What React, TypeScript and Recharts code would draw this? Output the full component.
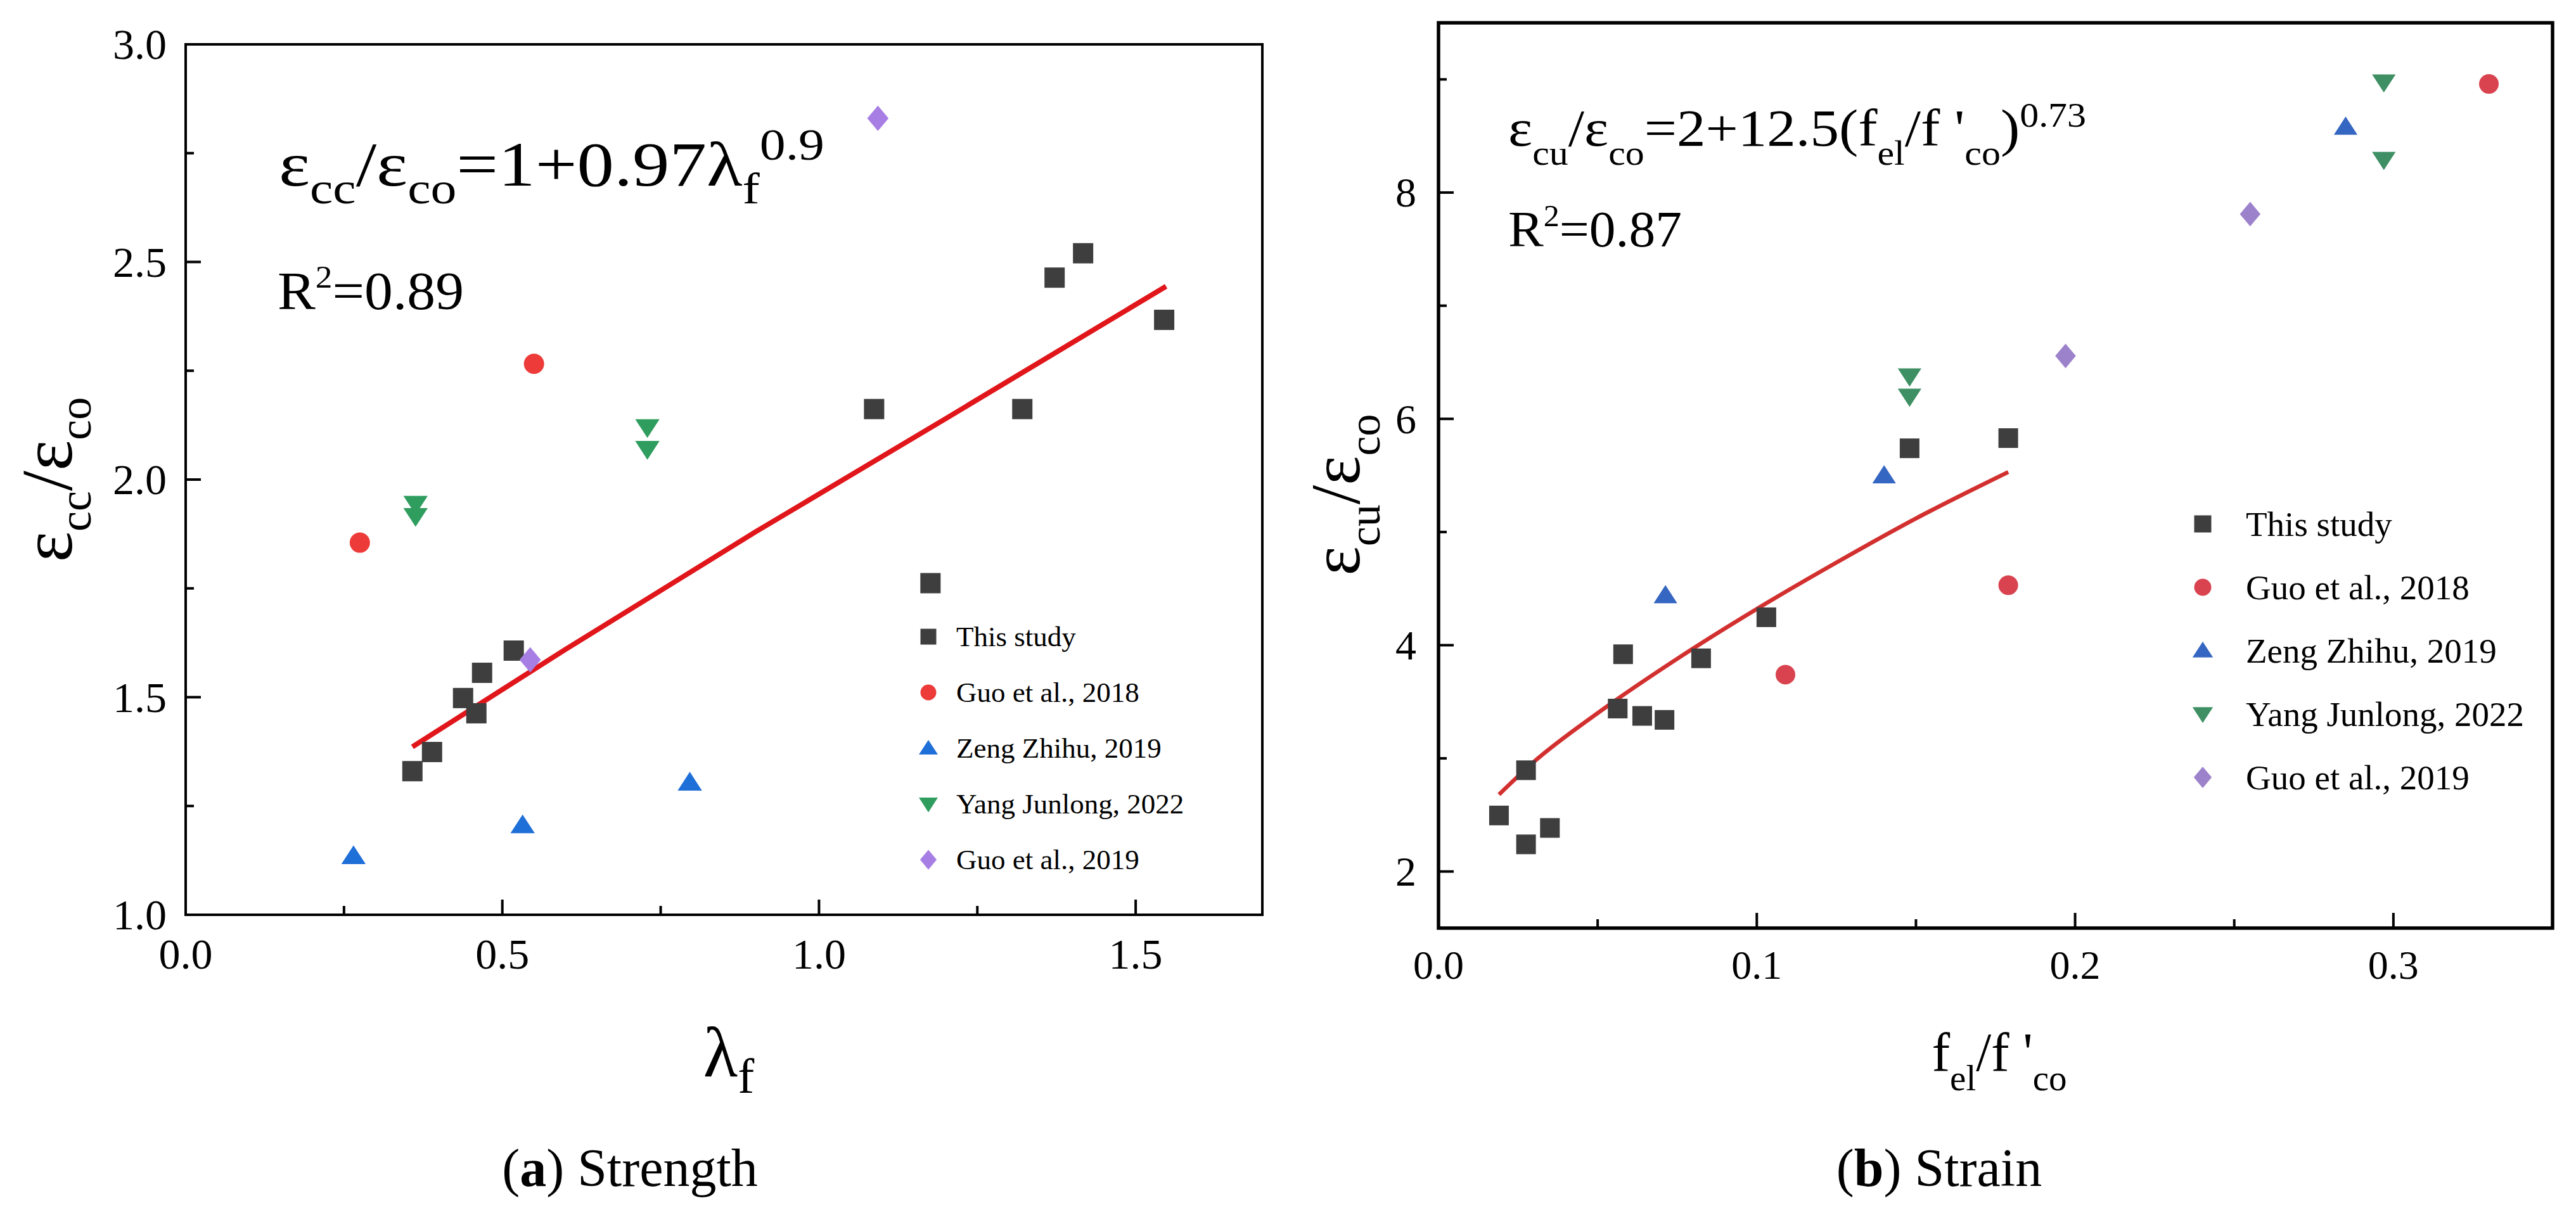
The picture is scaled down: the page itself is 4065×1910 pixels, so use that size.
import React from "react";
import { ComposedChart, Scatter, Line, XAxis, YAxis, ReferenceArea } from "recharts";

const FONT = "'Liberation Serif', 'Times New Roman', 'DejaVu Serif', serif";

// ---- (a) Strength ----
const strengthThisStudy = [
  { x: 0.358, y: 1.33 }, { x: 0.389, y: 1.374 }, { x: 0.438, y: 1.498 },
  { x: 0.459, y: 1.463 }, { x: 0.468, y: 1.556 }, { x: 0.518, y: 1.607 },
  { x: 1.087, y: 2.162 }, { x: 1.176, y: 1.762 }, { x: 1.321, y: 2.162 },
  { x: 1.372, y: 2.464 }, { x: 1.417, y: 2.52 }, { x: 1.545, y: 2.367 },
];
const strengthGuo2018 = [{ x: 0.275, y: 1.855 }, { x: 0.55, y: 2.266 }];
const strengthZeng2019 = [{ x: 0.265, y: 1.135 }, { x: 0.532, y: 1.206 }, { x: 0.796, y: 1.304 }];
const strengthYang2022 = [
  { x: 0.363, y: 1.944 }, { x: 0.363, y: 1.916 }, { x: 0.729, y: 2.12 }, { x: 0.729, y: 2.07 },
];
const strengthGuo2019 = [{ x: 0.544, y: 1.586 }, { x: 1.093, y: 2.83 }];
const strengthFit = [
  { x: 0.358, y: 1.386 }, { x: 0.6, y: 1.61 }, { x: 0.9, y: 1.88 }, { x: 1.2, y: 2.14 }, { x: 1.548, y: 2.444 },
];
const strengthXMajor = [0, 0.5, 1, 1.5];
const strengthXLabels = ["0.0", "0.5", "1.0", "1.5"];
const strengthXMinor = [0.25, 0.75, 1.25];
const strengthYMajor = [1, 1.5, 2, 2.5, 3];
const strengthYLabels = ["1.0", "1.5", "2.0", "2.5", "3.0"];
const strengthYMinor = [1.25, 1.75, 2.25, 2.75];

// ---- (b) Strain ----
const strainThisStudy = [
  { x: 0.019, y: 2.495 }, { x: 0.0275, y: 2.895 }, { x: 0.0275, y: 2.24 }, { x: 0.035, y: 2.385 },
  { x: 0.0563, y: 3.44 }, { x: 0.058, y: 3.92 }, { x: 0.064, y: 3.375 }, { x: 0.071, y: 3.34 },
  { x: 0.0825, y: 3.884 }, { x: 0.103, y: 4.247 }, { x: 0.148, y: 5.74 }, { x: 0.179, y: 5.83 },
];
const strainGuo2018 = [{ x: 0.109, y: 3.74 }, { x: 0.179, y: 4.53 }, { x: 0.33, y: 8.96 }];
const strainZeng2019 = [{ x: 0.0713, y: 4.44 }, { x: 0.14, y: 5.5 }, { x: 0.285, y: 8.58 }];
const strainYang2022 = [
  { x: 0.148, y: 6.376 }, { x: 0.148, y: 6.197 }, { x: 0.297, y: 8.975 }, { x: 0.297, y: 8.29 },
];
const strainGuo2019 = [{ x: 0.197, y: 6.556 }, { x: 0.255, y: 7.81 }];
const strainFit = [
  { x: 0.019, y: 2.68 }, { x: 0.03, y: 2.97 }, { x: 0.05, y: 3.4 }, { x: 0.075, y: 3.88 },
  { x: 0.1, y: 4.32 }, { x: 0.125, y: 4.73 }, { x: 0.15, y: 5.12 }, { x: 0.179, y: 5.53 },
];
const strainXMajor = [0, 0.1, 0.2, 0.3];
const strainXLabels = ["0.0", "0.1", "0.2", "0.3"];
const strainXMinor = [0.05, 0.15, 0.25, 0.35];
const strainYMajor = [2, 4, 6, 8];
const strainYLabels = ["2", "4", "6", "8"];
const strainYMinor = [3, 5, 7, 9];

const seriesNames = ["This study", "Guo et al., 2018", "Zeng Zhihu, 2019", "Yang Junlong, 2022", "Guo et al., 2019"];

type Kind = "square" | "circle" | "up" | "down" | "diamond";
const kinds: Kind[] = ["square", "circle", "up", "down", "diamond"];
const colorsA = ["#3e3e3e", "#ec3b38", "#1f6fd8", "#2f9d5e", "#a77ee4"];
const colorsB = ["#3e3e3e", "#d9434f", "#3566c2", "#3e9064", "#9c82cb"];

function Marker({ kind, cx, cy, size, color }: { kind: Kind; cx: number; cy: number; size: number; color: string }) {
  const h = size / 2;
  if (kind === "square") return <rect x={cx - h} y={cy - h} width={size} height={size} fill={color} />;
  if (kind === "circle") return <circle cx={cx} cy={cy} r={h} fill={color} />;
  if (kind === "diamond")
    return <polygon points={`${cx},${cy - h * 1.25} ${cx + h * 1.05},${cy} ${cx},${cy + h * 1.25} ${cx - h * 1.05},${cy}`} fill={color} />;
  const w = h * 1.2;
  const t = kind === "up" ? -1 : 1;
  return <polygon points={`${cx - w},${cy - t * h * 0.8} ${cx + w},${cy - t * h * 0.8} ${cx},${cy + t * h * 1.05}`} fill={color} />;
}

function yTick(major: number[], labels: string[], fontSize: number, gap: number, majorLen: number, minorLen: number) {
  return (props: any) => {
    const { x, y, payload } = props;
    const i = major.findIndex((m) => Math.abs(m - payload.value) < 1e-9);
    return (
      <g>
        <line x1={x} x2={x + (i >= 0 ? majorLen : minorLen)} y1={y} y2={y} stroke="#000" strokeWidth={4} />
        {i >= 0 && (
          <text x={x - gap} y={y + fontSize * 0.34} textAnchor="end" fontSize={fontSize} style={{ fontFamily: FONT }} fill="#000">
            {labels[i]}
          </text>
        )}
      </g>
    );
  };
}

function xTick(major: number[], labels: string[], fontSize: number, offset: number, majorLen: number, minorLen: number) {
  return (props: any) => {
    const { x, y, payload } = props;
    const i = major.findIndex((m) => Math.abs(m - payload.value) < 1e-9);
    return (
      <g>
        <line x1={x} x2={x} y1={y} y2={y - (i >= 0 ? majorLen : minorLen)} stroke="#000" strokeWidth={4} />
        {i >= 0 && (
          <text x={x} y={y + offset} textAnchor="middle" fontSize={fontSize} style={{ fontFamily: FONT }} fill="#000">
            {labels[i]}
          </text>
        )}
      </g>
    );
  };
}

function Panel(props: {
  width: number; height: number; margin: any; yWidth: number;
  xDomain: [number, number]; yDomain: [number, number];
  xMajor: number[]; xLabels: string[]; xMinor: number[];
  yMajor: number[]; yLabels: string[]; yMinor: number[];
  groups: { x: number; y: number }[][]; colors: string[]; fit: { x: number; y: number }[];
  fitColor: string; fitWidth: number; fitType: "linear" | "monotone";
  xFont: number; yFont: number; xOffset: number; yGap: number; frame: number; markerSize: number;
}) {
  const xTicks = [...props.xMajor, ...props.xMinor].sort((a, b) => a - b);
  const yTicks = [...props.yMajor, ...props.yMinor].sort((a, b) => a - b);
  return (
    <ComposedChart width={props.width} height={props.height} margin={props.margin}>
      <XAxis
        type="number" dataKey="x" domain={props.xDomain} ticks={xTicks} interval={0}
        allowDataOverflow axisLine={false} tickLine={false} tickSize={0} tickMargin={0} height={100}
        tick={xTick(props.xMajor, props.xLabels, props.xFont, props.xOffset, 24, 14)}
      />
      <YAxis
        type="number" dataKey="y" domain={props.yDomain} ticks={yTicks} interval={0}
        allowDataOverflow axisLine={false} tickLine={false} tickSize={0} tickMargin={0} width={props.yWidth}
        tick={yTick(props.yMajor, props.yLabels, props.yFont, props.yGap, 24, 13)}
      />
      <ReferenceArea
        x1={props.xDomain[0]} x2={props.xDomain[1]} y1={props.yDomain[0]} y2={props.yDomain[1]}
        fill="none" fillOpacity={0} stroke="#000" strokeWidth={props.frame} ifOverflow="visible"
      />
      {props.groups.map((g, i) => (
        <Scatter
          key={seriesNames[i]} name={seriesNames[i]} data={g} dataKey="y" isAnimationActive={false}
          shape={(p: any) => <Marker kind={kinds[i]} cx={p.cx} cy={p.cy} size={props.markerSize} color={props.colors[i]} />}
        />
      ))}
      <Line
        data={props.fit} dataKey="y" type={props.fitType} stroke={props.fitColor} strokeWidth={props.fitWidth}
        dot={false} activeDot={false} isAnimationActive={false} legendType="none"
      />
    </ComposedChart>
  );
}

function LegendBlock({ x, textX, y0, step, fontSize, size, colors }: any) {
  return (
    <g>
      {seriesNames.map((n, i) => (
        <g key={n}>
          <Marker kind={kinds[i]} cx={x} cy={y0 + i * step} size={size} color={colors[i]} />
          <text x={textX} y={y0 + i * step + fontSize * 0.34} fontSize={fontSize}>
            {n}
          </text>
        </g>
      ))}
    </g>
  );
}

function Overlay() {
  return (
    <svg width={4065} height={1910} style={{ position: "absolute", left: 0, top: 0, pointerEvents: "none", fontFamily: FONT }} fill="#000">
      {/* panel (a) annotations */}
      <text x={440} y={293} fontSize={100} textLength={861} lengthAdjust="spacingAndGlyphs">
        ε<tspan fontSize={70} dy={28}>cc</tspan><tspan dy={-28}>/ε</tspan>
        <tspan fontSize={70} dy={28}>co</tspan><tspan dy={-28}>=1+0.97λ</tspan>
        <tspan fontSize={70} dy={28}>f</tspan><tspan fontSize={70} dy={-69}>0.9</tspan>
      </text>
      <text x={438} y={488} fontSize={84} textLength={294} lengthAdjust="spacingAndGlyphs">
        R<tspan fontSize={50} dy={-34}>2</tspan><tspan dy={34}>=0.89</tspan>
      </text>
      <text x={113} y={757} fontSize={115} textAnchor="middle" transform="rotate(-90 113 757)">
        ε<tspan fontSize={72} dy={30}>cc</tspan><tspan dy={-30}>/ε</tspan><tspan fontSize={72} dy={30}>co</tspan>
      </text>
      <text x={1150} y={1699} fontSize={112} textAnchor="middle">
        λ<tspan fontSize={78} dy={26}>f</tspan>
      </text>
      <text x={994} y={1872} fontSize={84} textAnchor="middle">
        (<tspan fontWeight="bold">a</tspan>) Strength
      </text>
      <LegendBlock x={1465} textX={1509} y0={1005} step={88} fontSize={45} size={25} colors={colorsA} />

      {/* panel (b) annotations */}
      <text x={2380} y={230} fontSize={82} textLength={912} lengthAdjust="spacingAndGlyphs">
        ε<tspan fontSize={54} dy={30}>cu</tspan><tspan dy={-30}>/ε</tspan>
        <tspan fontSize={54} dy={30}>co</tspan><tspan dy={-30}>=2+12.5(f</tspan>
        <tspan fontSize={54} dy={30}>el</tspan><tspan dy={-30}>/f '</tspan>
        <tspan fontSize={54} dy={30}>co</tspan><tspan dy={-30}>)</tspan>
        <tspan fontSize={54} dy={-30}>0.73</tspan>
      </text>
      <text x={2380} y={389} fontSize={80} textLength={274} lengthAdjust="spacingAndGlyphs">
        R<tspan fontSize={48} dy={-32}>2</tspan><tspan dy={32}>=0.87</tspan>
      </text>
      <text x={2145} y={781} fontSize={110} textAnchor="middle" transform="rotate(-90 2145 781)">
        ε<tspan fontSize={70} dy={32}>cu</tspan><tspan dy={-32}>/ε</tspan><tspan fontSize={70} dy={32}>co</tspan>
      </text>
      <text x={3155} y={1690} fontSize={86} textAnchor="middle">
        f<tspan fontSize={57} dy={31}>el</tspan><tspan dy={-31}>/f '</tspan><tspan fontSize={57} dy={31}>co</tspan>
      </text>
      <text x={3060} y={1872} fontSize={84} textAnchor="middle">
        (<tspan fontWeight="bold">b</tspan>) Strain
      </text>
      <LegendBlock x={3476} textX={3544} y0={827} step={100} fontSize={55} size={27} colors={colorsB} />
    </svg>
  );
}

export default function App() {
  return (
    <div style={{ position: "absolute", left: 0, top: 0, width: 4065, height: 1910, background: "#fff", overflow: "hidden", fontFamily: FONT }}>
      <div style={{ position: "absolute", left: 0, top: 0 }}>
        <Panel
          width={2010} height={1910} margin={{ top: 70, right: 18, bottom: 366, left: 0 }} yWidth={293}
          xDomain={[0, 1.7]} yDomain={[1, 3]}
          xMajor={strengthXMajor} xLabels={strengthXLabels} xMinor={strengthXMinor}
          yMajor={strengthYMajor} yLabels={strengthYLabels} yMinor={strengthYMinor}
          groups={[strengthThisStudy, strengthGuo2018, strengthZeng2019, strengthYang2022, strengthGuo2019]}
          colors={colorsA} fit={strengthFit} fitColor="#e0161b" fitWidth={8} fitType="linear"
          xFont={68} yFont={68} xOffset={85} yGap={30} frame={4} markerSize={32}
        />
      </div>
      <div style={{ position: "absolute", left: 2010, top: 0 }}>
        <Panel
          width={2055} height={1910} margin={{ top: 36, right: 37, bottom: 345, left: 0 }} yWidth={260}
          xDomain={[0, 0.35]} yDomain={[1.5, 9.5]}
          xMajor={strainXMajor} xLabels={strainXLabels} xMinor={strainXMinor}
          yMajor={strainYMajor} yLabels={strainYLabels} yMinor={strainYMinor}
          groups={[strainThisStudy, strainGuo2018, strainZeng2019, strainYang2022, strainGuo2019]}
          colors={colorsB} fit={strainFit} fitColor="#d2302f" fitWidth={6.5} fitType="monotone"
          xFont={64} yFont={66} xOffset={80} yGap={35} frame={5.5} markerSize={31}
        />
      </div>
      <Overlay />
    </div>
  );
}
